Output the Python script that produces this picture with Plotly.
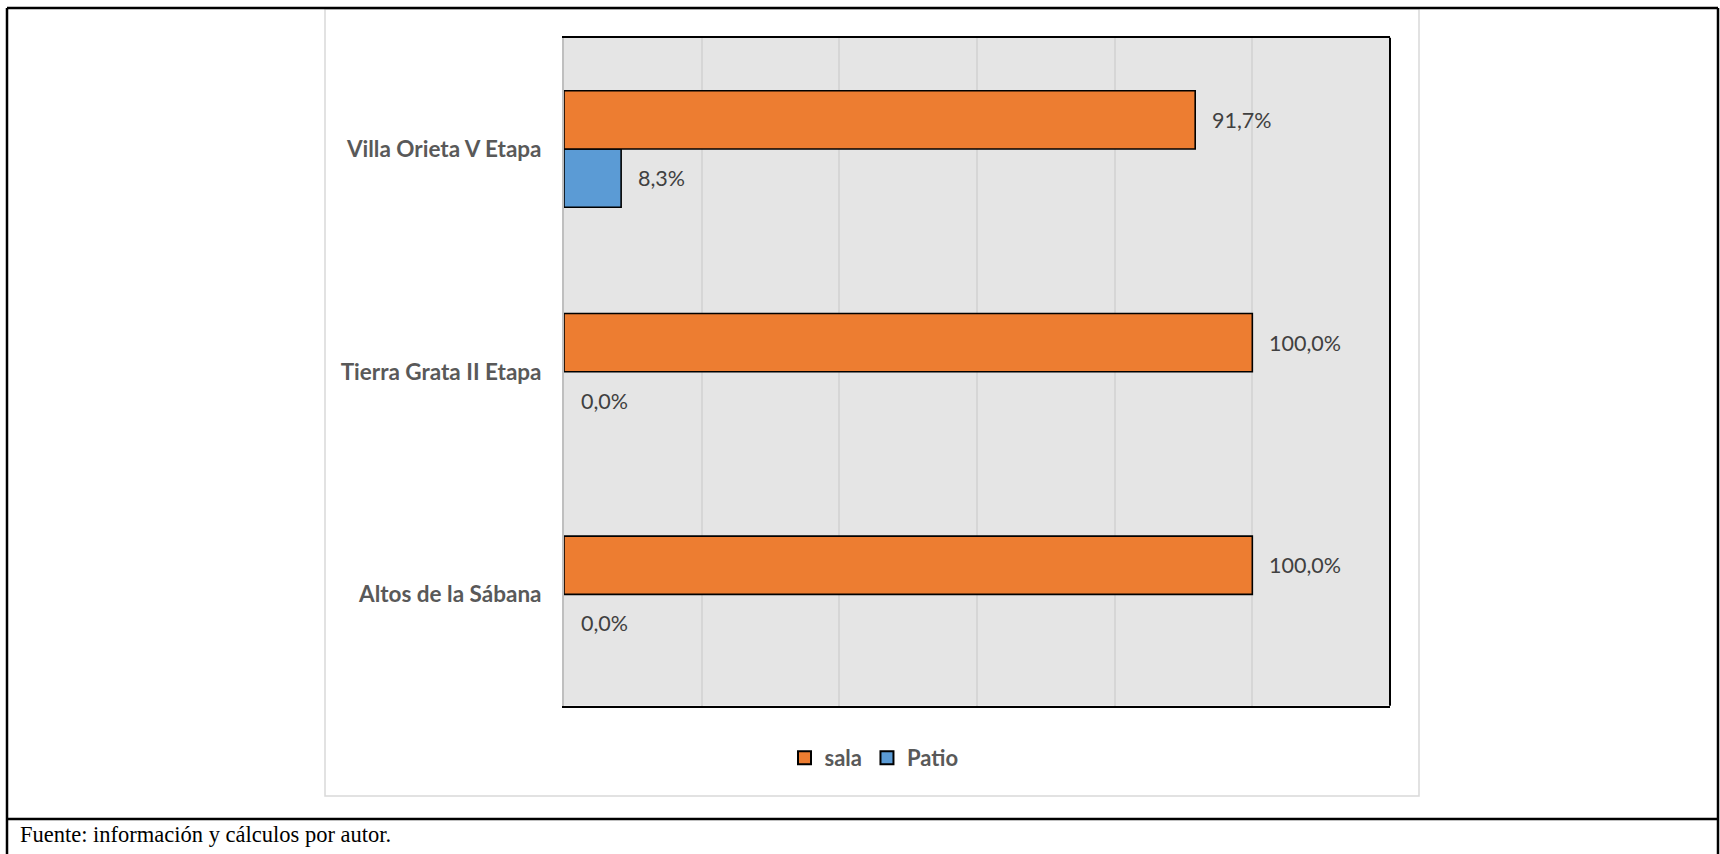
import plotly.graph_objects as go

categories = ["Altos de la Sábana", "Tierra Grata II Etapa", "Villa Orieta V Etapa"]
sala = [1.0, 1.0, 0.917]
patio = [0.0, 0.0, 0.083]
sala_labels = ["100,0%", "100,0%", "91,7%"]
patio_labels = ["0,0%", "0,0%", "8,3%"]

W, H = 1720, 854
def px(x):
    return x / W
def py(y):
    return 1 - y / H

ORANGE = "#ED7D31"
BLUE = "#5B9BD5"

def lw(vals):
    return [1.6 if v > 0 else 0 for v in vals]

fig = go.Figure()
fig.add_trace(go.Bar(name="Patio", y=categories, x=patio, orientation="h",
                     marker=dict(color=BLUE, line=dict(color="black", width=lw(patio))),
                     showlegend=False, hoverinfo="x+y"))
fig.add_trace(go.Bar(name="sala", y=categories, x=sala, orientation="h",
                     marker=dict(color=ORANGE, line=dict(color="black", width=lw(sala))),
                     showlegend=False, hoverinfo="x+y"))
# legend entries (legend-only square swatches with black borders)
fig.add_trace(go.Scatter(name="sala", x=[None], y=[None], mode="markers",
                         marker=dict(symbol="square", size=13, color=ORANGE,
                                     line=dict(color="black", width=2)),
                         legendrank=1, hoverinfo="skip"))
fig.add_trace(go.Scatter(name="Patio", x=[None], y=[None], mode="markers",
                         marker=dict(symbol="square", size=13, color=BLUE,
                                     line=dict(color="black", width=2)),
                         legendrank=2, hoverinfo="skip"))

LBL = dict(family="Lato", size=21.5, color="#404040")
annots = []
for c, v, t in zip(categories, sala, sala_labels):
    annots.append(dict(x=v, y=c, xref="x", yref="y", text=t, showarrow=False,
                       xanchor="left", yanchor="middle", xshift=15, yshift=29,
                       font=LBL))
for c, v, t in zip(categories, patio, patio_labels):
    annots.append(dict(x=v, y=c, xref="x", yref="y", text=t, showarrow=False,
                       xanchor="left", yanchor="middle", xshift=15, yshift=-29,
                       font=LBL))
annots.append(dict(x=px(18), y=py(834), xref="paper", yref="paper",
                   text="Fuente: información y cálculos por autor.", showarrow=False,
                   xanchor="left", yanchor="middle",
                   font=dict(family="Liberation Serif", size=22.5, color="black")))

shapes = [
    # chart frame
    dict(type="rect", xref="paper", yref="paper", x0=px(325), x1=px(1419), y0=py(796), y1=py(9),
         line=dict(color="#d9d9d9", width=1.5), layer="below"),
    # outer table lines
    dict(type="line", xref="paper", yref="paper", x0=px(7), x1=px(1718), y0=py(8), y1=py(8),
         line=dict(color="black", width=2.5)),
    dict(type="line", xref="paper", yref="paper", x0=px(7), x1=px(1718), y0=py(819), y1=py(819),
         line=dict(color="black", width=2.5)),
    dict(type="line", xref="paper", yref="paper", x0=px(7), x1=px(7), y0=py(8), y1=py(860),
         line=dict(color="black", width=2.5)),
    dict(type="line", xref="paper", yref="paper", x0=px(1718), x1=px(1718), y0=py(8), y1=py(860),
         line=dict(color="black", width=2.5)),
    # plot area right border
    dict(type="line", xref="paper", yref="paper", x0=px(1390), x1=px(1390), y0=py(37.7), y1=py(705.7),
         line=dict(color="black", width=2)),
]

fig.update_layout(
    width=W, height=H,
    margin=dict(l=0, r=0, t=0, b=0),
    paper_bgcolor="white",
    plot_bgcolor="#e5e5e5",
    barmode="group",
    bargap=0.477,
    bargroupgap=0,
    showlegend=True,
    legend=dict(orientation="h", x=px(874), y=py(758), xanchor="center", yanchor="middle",
                font=dict(family="Lato", size=22, color="#595959", weight="bold"),
                bgcolor="rgba(0,0,0,0)", itemwidth=30, traceorder="normal"),
    xaxis=dict(domain=[px(564), px(1390)], range=[0, 1.2], dtick=0.2,
               showticklabels=False, showgrid=True, gridcolor="#d6d6d6", gridwidth=1.5,
               zeroline=False, showline=True, linecolor="black", linewidth=2, mirror=True,
               fixedrange=True),
    yaxis=dict(domain=[py(705.7), py(37.7)], type="category",
               categoryorder="array", categoryarray=categories,
               showline=True, linecolor="#bfbfbf", linewidth=2, showgrid=False,
               ticks="", ticklabelstandoff=16,
               tickfont=dict(family="Lato", size=22.5, color="#595959", weight="bold"),
               fixedrange=True),
    annotations=annots,
    shapes=shapes,
)

fig.write_html("out.html", config={"displayModeBar": False},
               post_script="document.body.style.margin='0px';document.body.style.overflow='hidden';")
